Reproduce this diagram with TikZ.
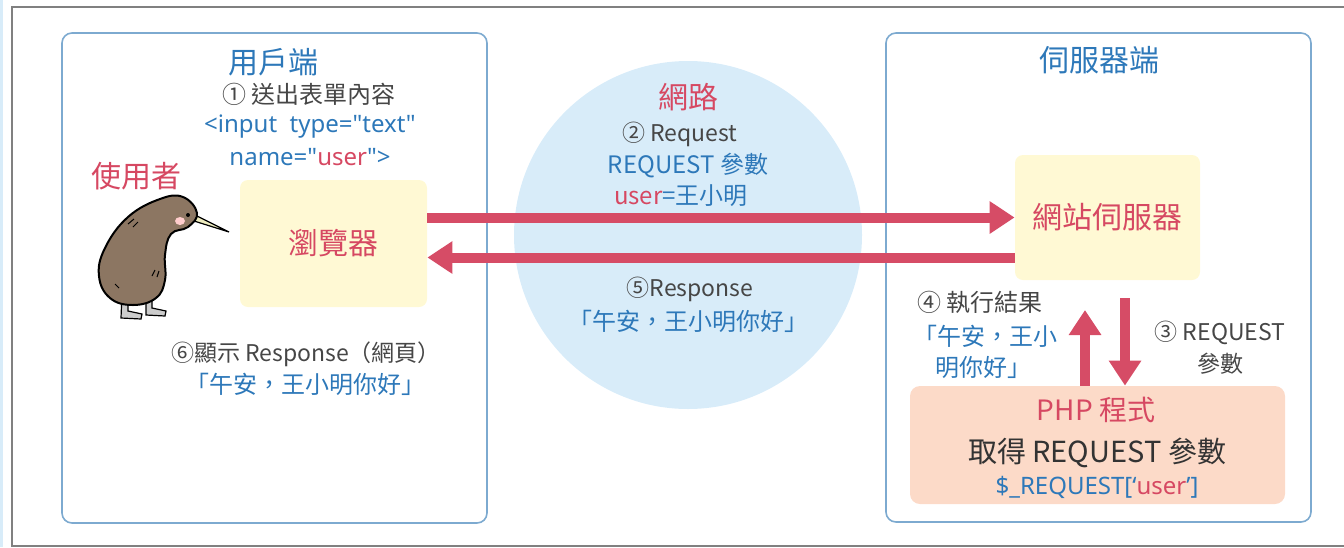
\documentclass[tikz,border=0pt]{standalone}
\usepackage{fontspec}
\setmainfont{Noto Sans CJK TC}
\newfontfamily\latinfont{Noto Sans}
\usetikzlibrary{arrows.meta}

\definecolor{txtblue}{RGB}{45,120,185}
\definecolor{txtred}{RGB}{214,72,98}
\definecolor{txtgray}{RGB}{70,70,70}
\definecolor{sideline}{RGB}{125,170,208}
\definecolor{netfill}{RGB}{216,236,249}
\definecolor{boxyellow}{RGB}{255,249,212}
\definecolor{boxsalmon}{RGB}{252,218,200}
\definecolor{arrowred}{RGB}{214,76,102}
\definecolor{kiwibrown}{RGB}{140,118,98}

\begin{document}
\begin{tikzpicture}[x=0.5pt,y=-0.5pt,
    sidebox/.style={draw=sideline,line width=0.8pt,rounded corners=5pt},
    appbox/.style={fill=boxyellow,rounded corners=4pt,inner sep=0pt},
    title/.style={font=\fontsize{15}{15}\selectfont,text=txtblue},
    label/.style={font=\fontsize{11.5}{12}\selectfont,text=txtgray},
    info/.style={font=\fontsize{12}{12}\selectfont,text=txtblue},
    bigarrow/.style={draw=arrowred,line width=5pt,
        -{Triangle[width=15.5pt,length=12.5pt]}}]
    \useasboundingbox (0,0) rectangle (1344,547);

    % outer frame
    \fill[netfill] (0,0) rectangle (3,547);
    \draw[gray,line width=1pt] (1344,7) -- (12,7) -- (12,546) -- (1344,546);

    % client side and server side
    \draw[sidebox] (62,33) rectangle (487,523);
    \draw[sidebox] (886,33) rectangle (1311,522);

    % network
    \node[circle,fill=netfill,minimum size=174pt,inner sep=0pt] (net) at (688,235) {};

    \node[title] (client) at (273,62) {用戶端};
    \node[label,font=\fontsize{12}{12}\selectfont] (step1) at (309,94) {① 送出表單內容};
    \node[info,font=\latinfont\fontsize{12}{12}\selectfont] (form1) at (310,127) {<input\ \ type="text"};
    \node[info,font=\latinfont\fontsize{12}{12}\selectfont] (form2) at (310,157) {name="\textcolor{txtred}{user}">};
    \node[title,text=txtred] (user) at (136,176) {使用者};
    \node[appbox,minimum width=93.5pt,minimum height=63.5pt] (browser) at (333.5,243.5) {};
    \node[title,text=txtred] at (browser) {瀏覽器};
    \node[label] (step6) at (306,354) {⑥顯示 Response（網頁）};
    \node[info] (show) at (305,384) {「午安，王小明你好」};

    \node[title,text=txtred] (nettitle) at (688,97) {網路};
    \node[label] (step2) at (680,134) {② Request};
    \node[info] (param) at (688,166) {REQUEST 參數};
    \node[info] (value) at (681,196) {\textcolor{txtred}{user}=王小明};
    \node[label] (step5) at (690,289) {⑤Response};
    \node[info] (reply) at (688,321) {「午安，王小明你好」};

    \node[title] (server) at (1099,60) {伺服器端};
    \node[appbox,minimum width=92.5pt,minimum height=62.5pt] (webserver) at (1107.5,217.5) {};
    \node[title,text=txtred] at (webserver) {網站伺服器};
    \node[appbox,fill=boxsalmon,rounded corners=5pt,minimum width=187.5pt,minimum height=59pt] (php) at (1097.5,445) {};
    \node[title,font=\fontsize{14}{14}\selectfont,text=txtred] (phptitle) at (1096,410) {PHP 程式};
    \node[title,font=\fontsize{14.5}{14.5}\selectfont,text=black!80] (getparam) at (1097,453) {取得 REQUEST 參數};
    \node[info,font=\latinfont\fontsize{12}{12}\selectfont] (phpcode) at (1097,487) {\$\_REQUEST[‘\textcolor{txtred}{user}’]};

    \node[label,font=\fontsize{12}{12}\selectfont] (step4) at (980,302) {④ 執行結果};
    \node[info] (result1) at (985,336) {「午安，王小};
    \node[info] (result2) at (983,367) {明你好」};
    \node[label] (step3a) at (1220,333) {③ REQUEST};
    \node[label] (step3b) at (1220,364) {參數};

    % request and response
    \draw[bigarrow] (browser.east |- webserver.west) -- (webserver.west);
    \draw[bigarrow] ([yshift=-20pt]webserver.west) -- ([yshift=-20pt]webserver.west -| browser.east);
    \coordinate (restip) at (1085,310);
    \coordinate (reqtop) at (1125,298);
    \draw[bigarrow] (php.north -| restip) -- (restip);
    \draw[bigarrow] (reqtop) -- (php.north -| reqtop);

    % kiwi
    \draw[line width=0.6pt,fill=black!20] (122,294) -- (128,294) -- (128,311) -- (142,314) -- (141,319) -- (121,318) -- cycle;
    \draw[line width=0.6pt,fill=black!20] (146,294) -- (152,294) -- (152,308) -- (166,311) -- (165,316) -- (146,315) -- cycle;
    \draw[line width=0.6pt,fill=black!10!white!80!yellow] (195,215) -- (229,232) -- (194,221) -- cycle;
    \draw[line width=1pt,fill=kiwibrown] plot[smooth cycle,tension=0.7] coordinates
        {(197,213) (183,197) (160,199) (128,217) (105,248) (99,276) (110,298) (133,305) (156,298) (165,280) (165,255) (171,234) (188,227)};
    \fill[pink!90!red!60] (180,221) ellipse [x radius=5,y radius=4];
    \fill (188,215) circle [radius=2];
    \draw[line width=0.5pt] (128,224) -- (134,219) (133,227) -- (138,222) (155,270) -- (152,276) (159,271) -- (157,277) (115,284) -- (119,288);
\end{tikzpicture}
\end{document}
